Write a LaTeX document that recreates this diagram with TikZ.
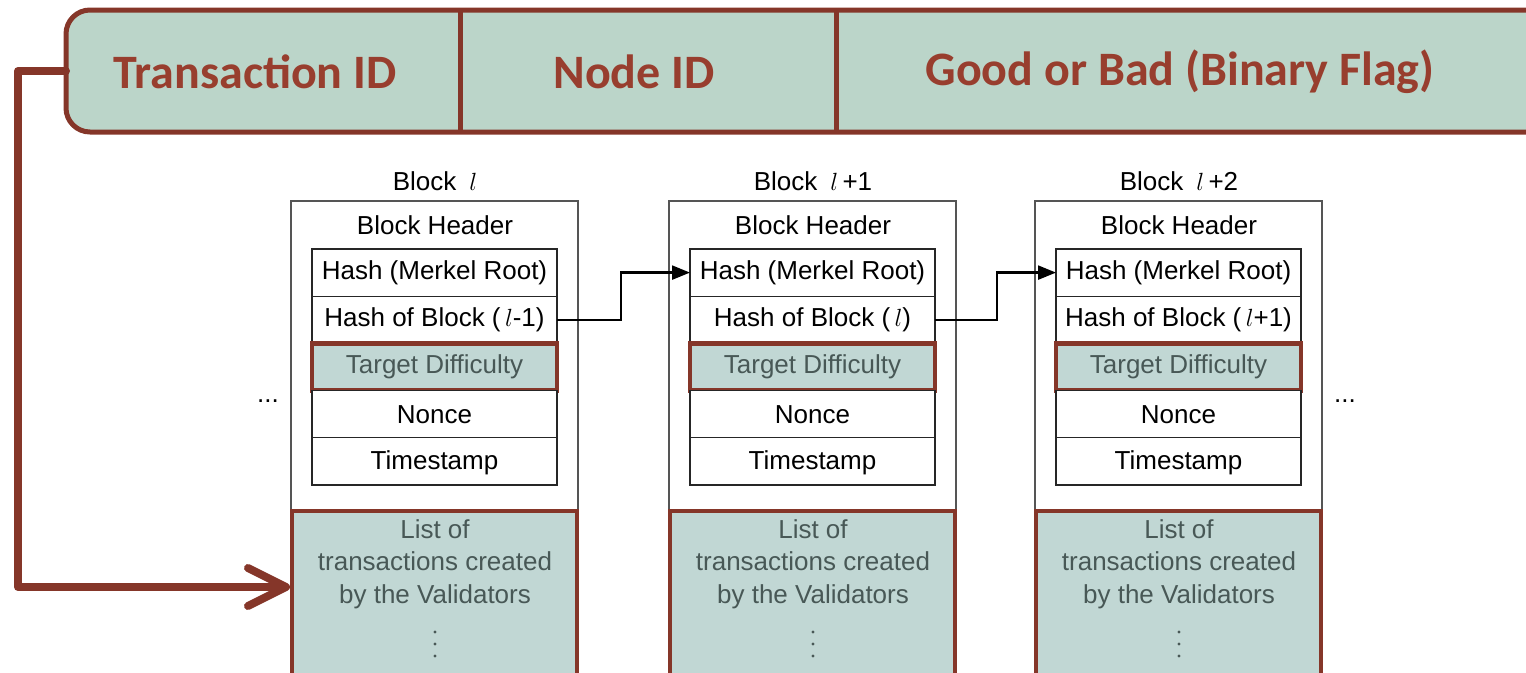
\documentclass[tikz,border=0pt]{standalone}
\usepackage{fontspec}
\setmainfont{Liberation Sans}
\newfontfamily\bannerfont{Carlito}
\usetikzlibrary{arrows.meta}

\definecolor{bannerfill}{RGB}{187,213,201}
\definecolor{redline}{RGB}{133,54,41}
\definecolor{bannertext}{RGB}{152,62,46}
\definecolor{cellfill}{RGB}{193,215,212}
\definecolor{celltext}{RGB}{72,88,86}
\definecolor{boxline}{RGB}{85,85,85}

% italic block index
\newcommand\bidx{$l$}

\tikzset{
  banner/.style={draw=redline, line width=5pt, fill=bannerfill, rounded corners=24pt,
    inner sep=0pt, outer sep=0pt},
  bannerlabel/.style={font=\bannerfont\bfseries\fontsize{48}{56}\selectfont, text=bannertext},
  divider/.style={draw=redline, line width=5pt},
  blocktext/.style={font=\fontsize{26}{32.5}\selectfont},
  outerbox/.style={draw=boxline, line width=1.3pt, fill=white, inner sep=0pt, outer sep=0pt,
    minimum width=287pt, minimum height=309pt},
  cell/.style={draw=black!85, line width=1.2pt, fill=white, inner sep=0pt, outer sep=0pt,
    minimum width=245pt, minimum height=47.2pt, blocktext},
  redcell/.style={cell, draw=redline, line width=4.5pt, fill=cellfill, text=celltext},
  listbox/.style={draw=redline, line width=4.5pt, fill=cellfill, inner sep=0pt, outer sep=0pt,
    minimum width=285pt, minimum height=180pt},
  listtext/.style={blocktext, text=celltext, align=center, inner sep=1pt},
  listdot/.style={fill=celltext},
  hashlink/.style={draw=black, line width=2.4pt, -{Triangle[length=18pt, width=14pt]}},
  txlink/.style={draw=redline, line width=8pt, line cap=round, line join=round,
    -{Straight Barb[length=38pt, width=38pt, line cap=round, line join=round]}},
}

\begin{document}
\begin{tikzpicture}[x=1pt, y=-1pt]
\useasboundingbox (0,0) rectangle (1526,672);
\clip (0,0) rectangle (1526,672);

% record layout banner
\node[banner, minimum width=1534pt, minimum height=122pt] (banner) at (833,71) {};
\draw[divider] (460,10) -- (460,132);
\draw[divider] (836,10) -- (836,132);
\node[bannerlabel] (txid) at (255,72) {Transaction ID};
\node[bannerlabel] (nodeid) at (634,72) {Node ID};
\node[bannerlabel] (flag) at (1180,72) {Good or Bad (Binary Flag)};

% the three chained blocks
\foreach \n/\ox/\ix/\ttl/\prev in {1/291/312/{}/{-1}, 2/669/690/{\,+1}/{}, 3/1035/1056/{\,+2}/{+1}} {
  \node[blocktext] (title\n) at (\ox+144,181) {Block\hspace{0.5em}\bidx\ttl};
  \node[outerbox, anchor=north west] (block\n) at (\ox,201) {};
  \node[blocktext] (header\n) at (\ox+144,225) {Block Header};
  \node[cell, anchor=north west] (merkle\n) at (\ix,249) {Hash (Merkel Root)};
  \node[cell, anchor=north west] (prevhash\n) at (\ix,296.2) {Hash of Block (\,\bidx\prev)};
  \node[redcell, anchor=north west] (target\n) at (\ix,343.4) {Target Difficulty};
  \node[cell, anchor=north west] (nonce\n) at (\ix,390.6) {Nonce};
  \node[cell, anchor=north west, text depth=2pt] (time\n) at (\ix,437.8) {Timestamp};
  \node[listbox, anchor=north west] (list\n) at (\ox+1,511) {};
  \node[listtext] (listlabel\n) at (\ox+144,564) {List of\\transactions created\\by the Validators};
  % vertical ellipsis: more transactions follow
  \foreach \k in {0,1,2}
    \fill[listdot] (\ox+144,632+12*\k) circle (1.6pt);
}

\node[blocktext] (moreleft) at (268,401) {...};
\node[blocktext] (moreright) at (1345,401) {...};

% hash links between consecutive blocks
\draw[hashlink] (prevhash1.east) -- ++(64,0) |- (merkle2.west);
\draw[hashlink] (prevhash2.east) -- ++(62,0) |- (merkle3.west);

% transaction ID points into the transaction list
\coordinate (bend) at (18,0);
\coordinate (listin) at (290,587);
\draw[txlink] (banner.west) -- (bend |- banner.west) -- (bend |- listin) -- (listin);
\end{tikzpicture}
\end{document}
